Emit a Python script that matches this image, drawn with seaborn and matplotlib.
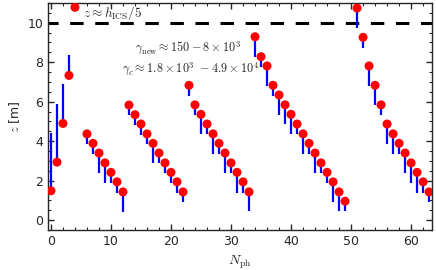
import matplotlib
matplotlib.use("Agg")
import matplotlib.pyplot as plt
import seaborn as sns
import pandas as pd
from matplotlib.ticker import MultipleLocator

# photon index, height of each emission point and far end of its bar
n_ph = [0, 1, 2, 3, 4,
        6, 7, 8, 9, 10, 11, 12,
        13, 14, 15, 16, 17, 18, 19, 20, 21, 22,
        23, 24, 25, 26, 27, 28, 29, 30, 31, 32, 33,
        34, 35, 36, 37, 38, 39, 40, 41, 42, 43, 44, 45, 46, 47, 48, 49,
        51, 52, 53, 54, 55, 56, 57, 58, 59, 60, 61, 62, 63]
z_point = [1.49, 2.94, 4.90, 7.33, 10.78,
           4.37, 3.89, 3.40, 2.90, 2.42, 1.94, 1.43,
           5.83, 5.34, 4.87, 4.37, 3.89, 3.40, 2.90, 2.42, 1.94, 1.43,
           6.83, 5.84, 5.36, 4.87, 4.37, 3.89, 3.40, 2.90, 2.42, 1.94, 1.43,
           9.29, 8.28, 7.81, 6.83, 6.34, 5.84, 5.36, 4.87, 4.37, 3.89, 3.40,
           2.90, 2.42, 1.94, 1.43, 0.96,
           10.74, 9.26, 7.81, 6.83, 5.84, 4.87, 4.37, 3.89, 3.40, 2.90, 2.42,
           1.94, 1.43]
z_bar_end = [4.42, 5.88, 6.88, 8.36, 11.8,
             3.85, 3.35, 2.37, 1.89, 1.89, 1.38, 0.42,
             5.32, 4.81, 4.31, 3.85, 2.87, 2.87, 2.37, 1.89, 1.38, 0.93,
             6.28, 5.32, 4.34, 4.34, 3.36, 3.36, 2.40, 2.40, 1.40, 1.40, 0.46,
             8.28, 7.77, 6.81, 6.30, 5.32, 4.87, 4.34, 4.34, 3.36, 3.36, 2.40,
             2.40, 1.89, 0.93, 0.46, 0.46,
             9.71, 8.73, 6.81, 5.83, 5.32, 3.85, 3.36, 3.36, 2.40, 1.89, 1.40,
             1.40, 0.93]
z_ics = 10.0

df = pd.DataFrame({"N": n_ph, "z": z_point, "z_end": z_bar_end})

sns.set_style("ticks")
plt.rcParams["font.family"] = ["DejaVu Sans"]
plt.rcParams["mathtext.fontset"] = "cm"

fig = plt.figure(figsize=(4.36, 2.70), dpi=100)
ax = fig.add_axes([0.110, 0.148, 0.881, 0.841])

# dashed reference height (long dashes, ~14 px on / 11 px off)
ax.axhline(z_ics, color="black", lw=2.2, linestyle=(1.1, (4.4, 3.8)), zorder=1)
ax.vlines(df["N"], df["z"], df["z_end"], color="#0000ff", lw=1.6, zorder=2)
sns.scatterplot(data=df, x="N", y="z", color="#ff0000", s=42,
                edgecolor="none", linewidth=0, zorder=3, ax=ax, legend=False)

ax.text(5.3, 10.5, r"$z \approx h_{\rm ICS}/5$", fontsize=9.5, va="center", ha="left")
ax.text(22.9, 8.7, r"$\gamma_{\rm new} \approx 150 - 8\times10^3$",
        fontsize=8.8, ha="center", va="center")
ax.text(23.3, 7.62, r"$\gamma_c \approx 1.8\times10^3\ - 4.9\times10^4$",
        fontsize=8.8, ha="center", va="center")

ax.set_xlim(-0.5, 63.5)
ax.set_ylim(-0.5, 11.0)
ax.xaxis.set_major_locator(MultipleLocator(10))
ax.xaxis.set_minor_locator(MultipleLocator(2))
ax.yaxis.set_major_locator(MultipleLocator(2))
ax.yaxis.set_minor_locator(MultipleLocator(0.5))
ax.tick_params(which="both", direction="in", top=True, right=True, labelsize=9)
ax.tick_params(which="major", length=4.5, width=1.0)
ax.tick_params(which="minor", length=2.5, width=0.8)
for sp in ax.spines.values():
    sp.set_linewidth(1.0)

ax.set_xlabel(r"$N_{\rm ph}$", fontsize=10)
ax.set_ylabel(r"$z$ [m]", fontsize=9)

fig.savefig("out.png", dpi=100)
